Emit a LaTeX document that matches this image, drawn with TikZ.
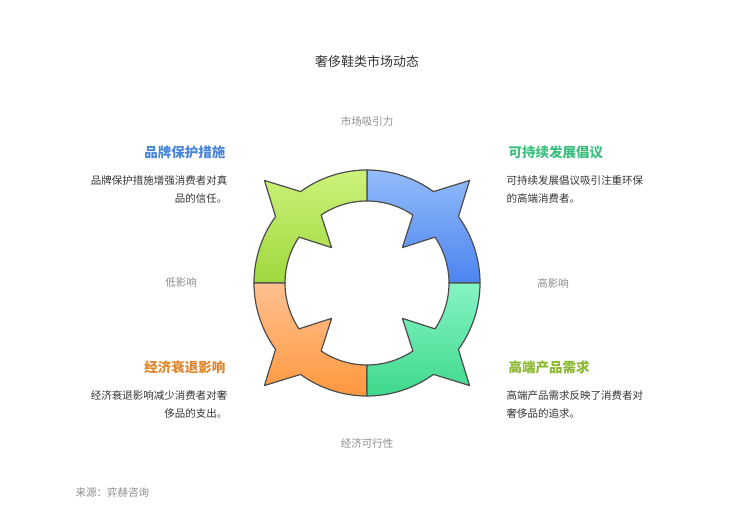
\documentclass[tikz,border=0pt]{standalone}
\usepackage{fontspec}
\setmainfont{Noto Sans CJK SC}
\usetikzlibrary{calc}
\definecolor{cblue}{HTML}{4A86D8}
\definecolor{cgreen}{HTML}{3CBF7E}
\definecolor{colive}{HTML}{8AB830}
\definecolor{corange}{HTML}{E0852E}
\definecolor{bA}{HTML}{94BCFA}\definecolor{bB}{HTML}{4C84F0}
\definecolor{gA}{HTML}{CCF27A}\definecolor{gB}{HTML}{A0D83E}
\definecolor{oA}{HTML}{FFC090}\definecolor{oB}{HTML}{FF983E}
\definecolor{tA}{HTML}{86F4C4}\definecolor{tB}{HTML}{3ED98C}
\begin{document}
\begin{tikzpicture}[x=1pt,y=1pt,
  seg/.style={draw=black!70,line width=1.2pt,line join=round},
  axis/.style={text=black!45,font=\fontsize{10.5}{12}\selectfont},
  head/.style={font=\fontsize{13.5}{16}\selectfont\bfseries},
  body/.style={text=black!80,font=\fontsize{10.5}{18}\selectfont}]
\useasboundingbox (0,0) rectangle (735,518);
\coordinate (c) at (367,235);
\def\R{113}\def\r{82}
\newcommand{\quadseg}[3]{%
 \pgfmathsetmacro\m{#1+45}%
 \shade[seg,top color=#2,bottom color=#3]
  ($(c)+(#1:\R)$) arc[start angle=#1,end angle=\m-9,radius=\R]
  -- ($(c)+(\m:145)$)
  -- ($(c)+(\m+9:\R)$) arc[start angle=\m+9,end angle=#1+90,radius=\R]
  -- ($(c)+(#1+90:\r)$) arc[start angle=#1+90,end angle=\m+11,radius=\r]
  -- ($(c)+(\m:50)$)
  -- ($(c)+(\m-11:\r)$) arc[start angle=\m-11,end angle=#1,radius=\r]
  -- cycle;}
\quadseg{0}{bA}{bB}
\quadseg{90}{gA}{gB}
\quadseg{180}{oA}{oB}
\quadseg{270}{tA}{tB}
\node[font=\fontsize{13}{15}\selectfont,text=black!80] (title) at (367,456) {奢侈鞋类市场动态};
\node[axis] (top) at (367,397) {市场吸引力};
\node[axis] (bot) at (367,74) {经济可行性};
\node[axis] (lft) at (181,235) {低影响};
\node[axis] (rgt) at (553,235) {高影响};
\node[head,text=cblue,anchor=east] (h1) at (229,366) {品牌保护措施};
\node[body,anchor=north east,align=right] (b1) at (231,346) {品牌保护措施增强消费者对真\\品的信任。};
\node[head,text=cgreen,anchor=west] (h2) at (505,366) {可持续发展倡议};
\node[body,anchor=north west,align=left] (b2) at (503,346) {可持续发展倡议吸引注重环保\\的高端消费者。};
\node[head,text=corange,anchor=east] (h3) at (229,151) {经济衰退影响};
\node[body,anchor=north east,align=right] (b3) at (231,131) {经济衰退影响减少消费者对奢\\侈品的支出。};
\node[head,text=colive,anchor=west] (h4) at (505,151) {高端产品需求};
\node[body,anchor=north west,align=left] (b4) at (503,131) {高端产品需求反映了消费者对\\奢侈品的追求。};
\node[axis,anchor=west] (src) at (72,25) {来源：弈赫咨询};
\end{tikzpicture}
\end{document}
